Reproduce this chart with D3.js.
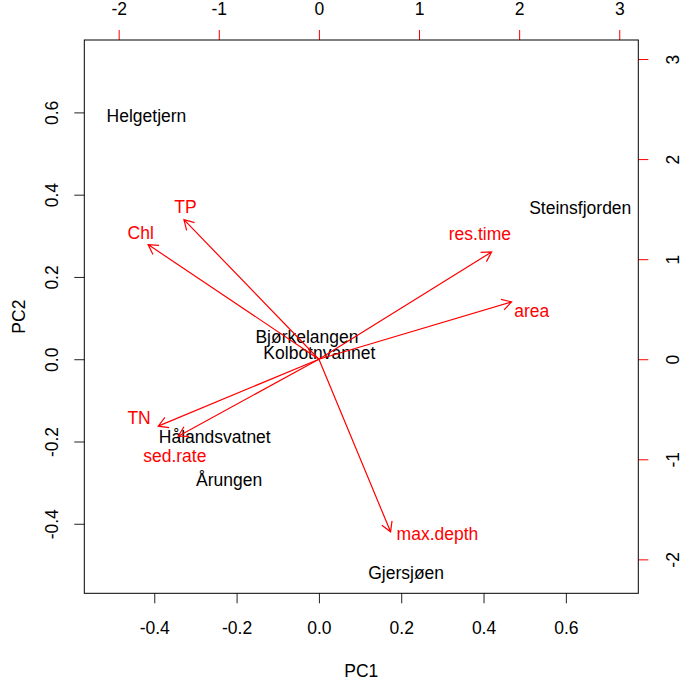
<!DOCTYPE html>
<html>
<head>
<meta charset="utf-8">
<script src="https://cdn.jsdelivr.net/npm/d3@7"></script>
<style>
  body { margin: 0; background: #fff; }
  svg text { font-family: "Liberation Sans", Arial, Helvetica, sans-serif; font-size: 17.5px; }
</style>
</head>
<body>
<svg id="biplot" width="680" height="679"></svg>
<script>
// scores (PC1 / PC2, bottom + left axes)
const siteNames = ['Helgetjern', 'Steinsfjorden', 'Bjørkelangen', 'Kolbotnvannet', 'Hålandsvatnet', 'Årungen', 'Gjersjøen'];
const siteX = [-0.419, 0.635, -0.029, 0.001, -0.253, -0.218, 0.212];
const siteY = [0.592, 0.368, 0.055, 0.017, -0.188, -0.293, -0.518];

// loadings (top + right axes): arrow tips and label spots
const varNames = ['TP', 'Chl', 'TN', 'sed.rate', 'res.time', 'area', 'max.depth'];
const varX = [-1.348, -1.706, -1.605, -1.405, 1.725, 1.925, 0.716];
const varY = [1.395, 1.146, -0.669, -0.769, 1.072, 0.573, -1.725];
const varLabelX = [-1.332, -1.780, -1.796, -1.439, 1.608, 2.126, 1.184];
const varLabelY = [1.528, 1.269, -0.589, -0.969, 1.252, 0.486, -1.745];

const pcTicks = [-0.4, -0.2, 0.0, 0.2, 0.4, 0.6];
const loadTicks = [-2, -1, 0, 1, 2, 3];

const BOX = {left: 84.3, right: 638.3, top: 40, bottom: 593.3};
const PC_LIM = {x: [-0.570, 0.776], y: [-0.569, 0.776]};
const LOAD_RATIO = 4.111;

const svg = d3.select('#biplot');

const scale = {
  x: d3.scaleLinear().domain(PC_LIM.x).range([BOX.left, BOX.right]),
  y: d3.scaleLinear().domain(PC_LIM.y).range([BOX.bottom, BOX.top]),
  x2: d3.scaleLinear().domain(PC_LIM.x.map((d) => d * LOAD_RATIO)).range([BOX.left, BOX.right]),
  y2: d3.scaleLinear().domain(PC_LIM.y.map((d) => d * LOAD_RATIO)).range([BOX.bottom, BOX.top]),
};

const fmt1 = (d) => d.toFixed(1);
const fmt0 = (d) => String(d);

function styleAxis(g, tickColor) {
  g.select('.domain').remove();
  g.selectAll('.tick line').attr('stroke', tickColor).attr('stroke-width', 1);
  g.selectAll('.tick text').attr('fill', '#000').attr('font-size', null);
  g.attr('font-family', null).attr('font-size', null);
}

// bottom
svg.append('g')
  .attr('transform', `translate(0,${BOX.bottom})`)
  .call(d3.axisBottom(scale.x).tickValues(pcTicks).tickFormat(fmt1).tickSize(10).tickPadding(18))
  .call((g) => styleAxis(g, '#222'));

// left (rotated labels)
svg.append('g')
  .attr('transform', `translate(${BOX.left},0)`)
  .call(d3.axisLeft(scale.y).tickValues(pcTicks).tickFormat(fmt1).tickSize(10))
  .call((g) => styleAxis(g, '#222'))
  .call((g) => g.selectAll('.tick text')
    .attr('x', 0).attr('y', -26).attr('dy', null)
    .attr('text-anchor', 'middle')
    .attr('transform', 'rotate(-90)'));

// top
svg.append('g')
  .attr('transform', `translate(0,${BOX.top})`)
  .call(d3.axisTop(scale.x2).tickValues(loadTicks).tickFormat(fmt0).tickSize(10).tickPadding(15))
  .call((g) => styleAxis(g, '#ff0000'));

// right
svg.append('g')
  .attr('transform', `translate(${BOX.right},0)`)
  .call(d3.axisRight(scale.y2).tickValues(loadTicks).tickFormat(fmt0).tickSize(10))
  .call((g) => styleAxis(g, '#ff0000'))
  .call((g) => g.selectAll('.tick text')
    .attr('x', 0).attr('y', 40.5).attr('dy', null)
    .attr('text-anchor', 'middle')
    .attr('transform', 'rotate(-90)'));

// frame
svg.append('rect')
  .attr('x', BOX.left).attr('y', BOX.top)
  .attr('width', BOX.right - BOX.left).attr('height', BOX.bottom - BOX.top)
  .attr('fill', 'none').attr('stroke', '#000').attr('stroke-width', 1);

// axis titles
svg.append('text')
  .attr('x', (BOX.left + BOX.right) / 2).attr('y', 676.7)
  .attr('text-anchor', 'middle')
  .text('PC1');
svg.append('text')
  .attr('transform', `translate(25,${(BOX.top + BOX.bottom) / 2}) rotate(-90)`)
  .attr('text-anchor', 'middle')
  .text('PC2');

// site names
svg.append('g').selectAll('text')
  .data(siteNames)
  .join('text')
  .attr('x', (d, i) => scale.x(siteX[i]))
  .attr('y', (d, i) => scale.y(siteY[i]))
  .attr('dy', '0.36em')
  .attr('text-anchor', 'middle')
  .attr('fill', '#000')
  .text((d) => d);

// loading arrows
const HEAD = 11;
const HEAD_ANGLE = Math.PI / 6;
const arrows = varNames.map((name, i) => {
  const x0 = scale.x2(0), y0 = scale.y2(0);
  const x1 = scale.x2(varX[i]), y1 = scale.y2(varY[i]);
  const a = Math.atan2(y1 - y0, x1 - x0);
  const path = d3.path();
  path.moveTo(x0, y0);
  path.lineTo(x1, y1);
  path.moveTo(x1 - HEAD * Math.cos(a - HEAD_ANGLE), y1 - HEAD * Math.sin(a - HEAD_ANGLE));
  path.lineTo(x1, y1);
  path.lineTo(x1 - HEAD * Math.cos(a + HEAD_ANGLE), y1 - HEAD * Math.sin(a + HEAD_ANGLE));
  return {name: name, d: path.toString()};
});

svg.append('g').selectAll('path')
  .data(arrows)
  .join('path')
  .attr('d', (d) => d.d)
  .attr('fill', 'none')
  .attr('stroke', '#ff0000')
  .attr('stroke-width', 1.2);

svg.append('g').selectAll('text')
  .data(varNames)
  .join('text')
  .attr('x', (d, i) => scale.x2(varLabelX[i]))
  .attr('y', (d, i) => scale.y2(varLabelY[i]))
  .attr('dy', '0.36em')
  .attr('text-anchor', 'middle')
  .attr('fill', '#ff0000')
  .text((d) => d);
</script>
</body>
</html>
